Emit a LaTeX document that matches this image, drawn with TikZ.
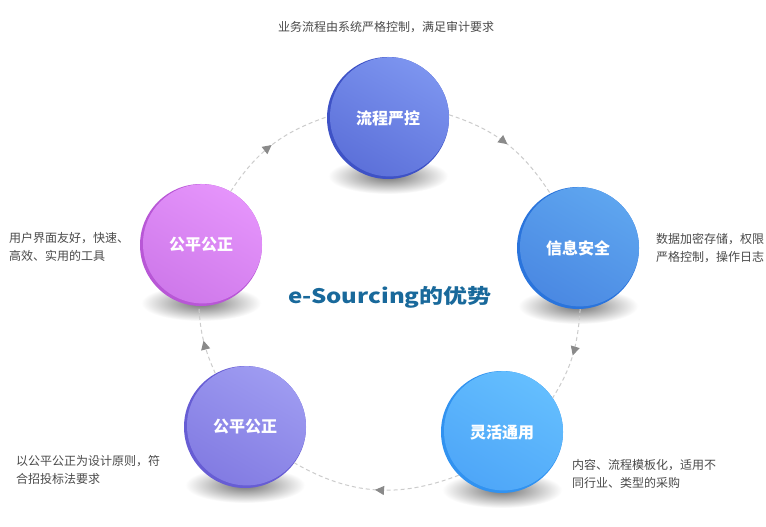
\documentclass[tikz,border=0pt]{standalone}
\usepackage{fontspec}
\setmainfont{Noto Sans CJK SC}
\newfontfamily\titlefont[FakeStretch=1.2]{Noto Sans CJK SC}
\usetikzlibrary{arrows.meta, decorations.markings}

\definecolor{descgray}{HTML}{4A4A4A}
\definecolor{titleblue}{HTML}{19699B}
\definecolor{arcgray}{HTML}{CCCCCC}
\definecolor{tipgray}{HTML}{8A8A8A}
% ball colours: light, dark, rim
\definecolor{ctrlL}{HTML}{7C94EF}
\definecolor{ctrlD}{HTML}{5C70D9}
\definecolor{ctrlR}{HTML}{3E52C6}
\definecolor{safeL}{HTML}{5EA5EF}
\definecolor{safeD}{HTML}{4A88E2}
\definecolor{safeR}{HTML}{2A74DC}
\definecolor{flexL}{HTML}{64BEFE}
\definecolor{flexD}{HTML}{4EA6F8}
\definecolor{flexR}{HTML}{3192F0}
\definecolor{fairL}{HTML}{9E9BF1}
\definecolor{fairD}{HTML}{827BE2}
\definecolor{fairR}{HTML}{675DD4}
\definecolor{easyL}{HTML}{E594FB}
\definecolor{easyD}{HTML}{CE78EA}
\definecolor{easyR}{HTML}{B857D6}

\begin{document}
\begin{tikzpicture}[x=1bp, y=1bp,
    ball/.style n args={3}{circle, minimum size=122bp, inner sep=0pt, fill=#3,
        text=white, font=\fontsize{16bp}{18bp}\selectfont\bfseries,
        path picture={\shade[top color=#1, bottom color=#2, shading angle=-30]
            ([shift={(1.6bp,1.2bp)}]path picture bounding box.center) circle (59.6bp);}},
    shadow/.style={inner color=black!55, outer color=white},
    desc/.style={inner sep=0pt, align=left, text=descgray,
        font=\fontsize{12bp}{18bp}\selectfont},
    link/.style={draw=arcgray, line width=1bp, dash pattern=on 4bp off 3bp,
        postaction={decorate},
        decoration={markings, mark=at position 0.5 with
            {\arrow[tipgray]{Triangle[length=9bp, width=9bp]}}}}]

        \fill[white] (0,0) rectangle (766,527);

        \foreach \n/\x/\y/\lt/\dk/\rm/\lab in {
            b1/388/409/ctrlL/ctrlD/ctrlR/流程严控,
            b2/578/279/safeL/safeD/safeR/信息安全,
            b3/502/95/flexL/flexD/flexR/灵活通用,
            b4/245/100/fairL/fairD/fairR/公平公正,
            b5/201/282/easyL/easyD/easyR/公平公正}
        {
            \shade[shadow] (\x,\y-58) ellipse (60 and 18);
            \node[ball={\lt}{\dk}{\rm}] (\n) at (\x,\y) {\lab};
        }

        % dashed ring, clockwise
        \foreach \a/\p/\b/\q/\o/\i in {
            b1/3/b2/117/-18/123,
            b2/272/b3/34/-94/58,
            b3/225/b4/324/-159/-30,
            b4/119/b5/268/114/273,
            b5/61/b1/179/57/199}
        \draw[link] (\a.\p) to[out=\o, in=\i] (\b.\q);

        \node[desc] (d1) at (386,500) {业务流程由系统严格控制，满足审计要求};
        \node[desc, anchor=west] (d2) at (656,279) {数据加密存储，权限\\严格控制，操作日志};
        \node[desc, anchor=west] (d3) at (572,53) {内容、流程模板化，适用不\\同行业、类型的采购};
        \node[desc, anchor=west] (d4) at (16,57) {以公平公正为设计原则，符\\合招投标法要求};
        \node[desc, anchor=west] (d5) at (9,280) {用户界面友好，快速、\\高效、实用的工具};

        \node[text=titleblue, font=\titlefont\bfseries\fontsize{20bp}{24bp}\selectfont]
            (title) at (390,230) {e-Sourcing的优势};
\end{tikzpicture}
\end{document}
